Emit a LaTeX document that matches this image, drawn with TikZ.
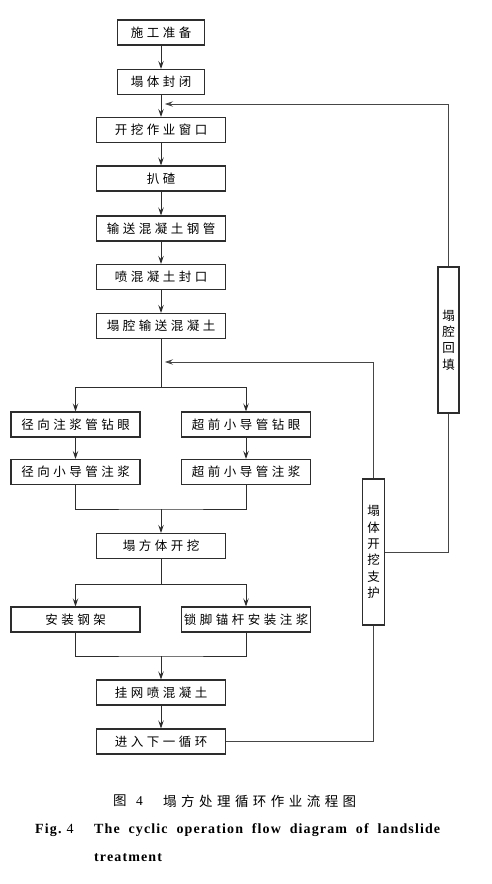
\documentclass[tikz,border=0pt]{standalone}
\usepackage{fontspec}
\setmainfont{Liberation Serif}
\newfontfamily\cjk{Noto Sans CJK SC}[LetterSpace=28]
\newfontfamily\cjkplain{Noto Sans CJK SC}
\newfontfamily\cjkcap{Noto Sans CJK SC}[LetterSpace=33]
\newfontfamily\capfont{Liberation Serif}[LetterSpace=8]
\usetikzlibrary{arrows.meta}
\definecolor{ink}{RGB}{45,45,45}
\definecolor{loopline}{RGB}{70,70,70}
\tikzset{
  stepbox/.style={draw=ink,line width=1.1pt,minimum width=129pt,minimum height=25pt,inner sep=0pt,
    font=\cjk\fontsize{12.5}{16}\selectfont},
  shortbox/.style={stepbox,minimum width=87pt},
  tallbox/.style={draw=ink,line width=1.1pt,minimum width=22pt,minimum height=146pt,inner sep=0pt,
    align=center,font=\cjkplain\fontsize{12.5}{16.3}\selectfont},
  flow/.style={ink,line width=0.9pt,-{Stealth[length=8pt,width=5.5pt,inset=3pt]}},
  link/.style={ink,line width=0.9pt},
  back/.style={loopline,line width=0.7pt},
  backarrow/.style={back,-{Stealth[length=8pt,width=5.5pt,inset=3pt]}}
}

\begin{document}
\begin{tikzpicture}[x=1pt,y=-1pt]
  \useasboundingbox (0,0) rectangle (492,884);
  % main column
  \node[shortbox] (prep) at (161,32.5) {施工准备};
  \node[shortbox] (close) at (161,82) {塌体封闭};
  \node[stepbox] (window) at (161,130) {开挖作业窗口};
  \node[stepbox] (muck) at (161,178.5) {扒碴};
  \node[stepbox] (pipe) at (161,228.5) {输送混凝土钢管};
  \node[stepbox] (seal) at (161,277) {喷混凝土封口};
  \node[stepbox] (fill) at (161,326) {塌腔输送混凝土};
  % two branches
  \node[stepbox] (radDrill) at (75.5,424.5) {径向注浆管钻眼};
  \node[stepbox] (advDrill) at (246,424.5) {超前小导管钻眼};
  \node[stepbox] (radGrout) at (75.5,472) {径向小导管注浆};
  \node[stepbox] (advGrout) at (246,472) {超前小导管注浆};
  \node[stepbox] (dig) at (161,546) {塌方体开挖};
  \node[stepbox] (frame) at (75.5,619.5) {安装钢架};
  \node[stepbox] (bolt) at (246,619.5) {锁脚锚杆安装注浆};
  \node[stepbox] (spray) at (161,692.5) {挂网喷混凝土};
  \node[stepbox] (next) at (161,741.5) {进入下一循环};
  % loop boxes
  \node[tallbox,minimum width=21pt] (backfill) at (448.5,340) {塌\\腔\\回\\填};
  \node[tallbox] (support) at (373.5,552) {塌\\体\\开\\挖\\支\\护};

  \coordinate (split1) at (161,387);
  \coordinate (merge1) at (161,509);
  \coordinate (split2) at (161,584);
  \coordinate (merge2) at (161,656);
  \coordinate (join1) at (165,104);
  \coordinate (join2) at (165,362);

  \draw[flow] (prep) -- (close);
  \draw[flow] (close) -- (window);
  \draw[flow] (window) -- (muck);
  \draw[flow] (muck) -- (pipe);
  \draw[flow] (pipe) -- (seal);
  \draw[flow] (seal) -- (fill);
  \draw[link] (fill) -- (split1);
  \draw[flow] (split1) -| (radDrill);
  \draw[flow] (split1) -| (advDrill);
  \draw[flow] (radDrill) -- (radGrout);
  \draw[flow] (advDrill) -- (advGrout);
  \draw[link] (radGrout) |- (merge1) -| (advGrout);
  \draw[flow] (merge1) -- (dig);
  \draw[link] (dig) -- (split2);
  \draw[flow] (split2) -| (frame);
  \draw[flow] (split2) -| (bolt);
  \draw[link] (frame) |- (merge2) -| (bolt);
  \draw[flow] (merge2) -- (spray);
  \draw[flow] (spray) -- (next);

  % feedback
  \draw[back] (next) -| (support);
  \draw[backarrow] (support) |- (join2);
  \draw[back] (support) -| (backfill);
  \draw[backarrow] (backfill) |- (join1);

  % caption
  \node[anchor=west,inner sep=0pt,font=\cjkplain\fontsize{13.5}{15}\selectfont] (capfig) at (113,801)
    {图};
  \node[anchor=west,inner sep=0pt,font=\fontsize{13.5}{15}\selectfont] (capnum) at (136,801) {4};
  \node[anchor=west,inner sep=0pt,font=\cjkcap\fontsize{13.5}{15}\selectfont] (capzh) at (163,801)
    {塌方处理循环作业流程图};
  \node[anchor=west,inner sep=0pt,font=\capfont\fontsize{14}{28}\selectfont] (capno) at (35,830)
    {\textbf{Fig.}\hspace{4pt}4};
  \node[anchor=west,inner sep=0pt,font=\capfont\bfseries\fontsize{14}{28}\selectfont] (capen) at (94,830)
    {\hbox to 346pt{The\hfill cyclic\hfill operation\hfill flow\hfill diagram\hfill of\hfill landslide}};
  \node[anchor=west,inner sep=0pt,font=\capfont\bfseries\fontsize{14}{28}\selectfont] (capen2) at (94,858)
    {treatment};
\end{tikzpicture}
\end{document}
